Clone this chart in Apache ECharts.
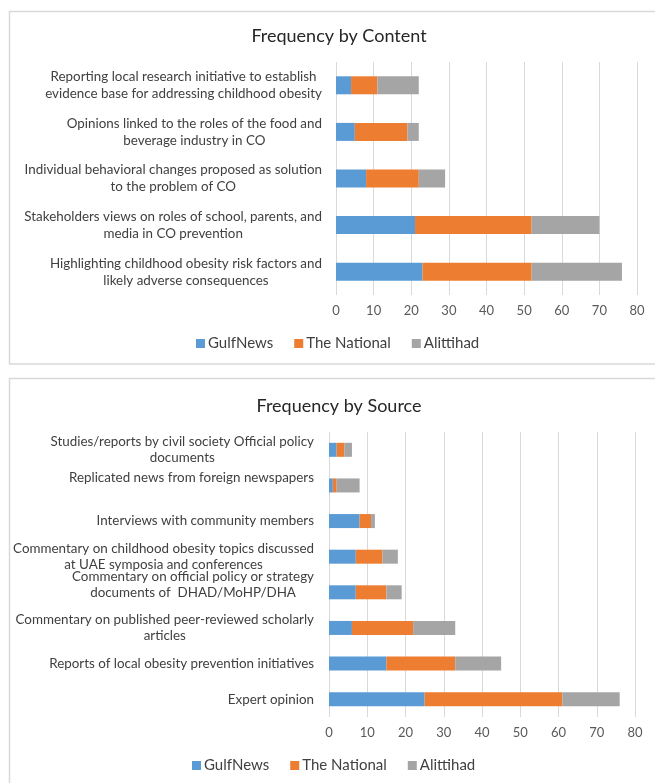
<!DOCTYPE html>
<html>
<head>
<meta charset="utf-8">
<title>Frequency by Content / Source</title>
<script src="https://cdn.jsdelivr.net/npm/echarts@6/dist/echarts.min.js"></script>
<style>
  html, body { margin: 0; padding: 0; background: #fff; overflow: hidden; }
  #chart { width: 655px; height: 783px; }
</style>
</head>
<body>
<div id="chart"></div>
<script>
// 数据 - 按内容
const contentCats = [
  'Reporting local research initiative to establish\nevidence base for addressing childhood obesity',
  'Opinions linked to the roles of the food and\nbeverage industry in CO',
  'Individual behavioral changes proposed as solution\nto the problem of CO',
  'Stakeholders views on roles of school, parents, and\nmedia in CO prevention',
  'Highlighting childhood obesity risk factors and\nlikely adverse consequences'
];
const contentGulf = [4, 5, 8, 21, 23];
const contentNational = [7, 14, 14, 31, 29];
const contentAlittihad = [11, 3, 7, 18, 24];

// 数据 - 按来源
const sourceCats = [
  'Studies/reports by civil society Official policy\ndocuments',
  'Replicated news from foreign newspapers\n ',
  'Interviews with community members',
  'Commentary on childhood obesity topics discussed\nat UAE symposia and conferences',
  'Commentary on official policy or strategy\ndocuments of  DHAD/MoHP/DHA\n ',
  'Commentary on published peer-reviewed scholarly\narticles',
  'Reports of local obesity prevention initiatives',
  'Expert opinion'
];
const sourceGulf = [2, 1, 8, 7, 7, 6, 15, 25];
const sourceNational = [2, 1, 3, 7, 8, 16, 18, 36];
const sourceAlittihad = [2, 6, 1, 4, 4, 11, 12, 15];

const seriesNames = ['GulfNews', 'The National', 'Alittihad'];
const xTicks = { min: 0, max: 80, interval: 10 };

const colors = ['#5B9BD5', '#ED7D31', '#A5A5A5'];
const font = 'Lato, "Open Sans", sans-serif';

// 多行标签居中
function catLabel(value) {
  return value.split('\n').map(l => '{c|' + l + '}').join('\n');
}

function xAxisOf(gridIndex) {
  return {
    type: 'value',
    gridIndex: gridIndex,
    min: xTicks.min,
    max: xTicks.max,
    interval: xTicks.interval,
    axisLine: { show: false },
    axisTick: { show: false },
    axisLabel: { color: '#595959', fontSize: 13, fontFamily: font, margin: 9 },
    splitLine: { show: true, lineStyle: { color: '#d9d9d9', width: 1 } }
  };
}

function yAxisOf(gridIndex, cats, lineHeight, margin) {
  return {
    type: 'category',
    gridIndex: gridIndex,
    data: cats,
    inverse: true,
    axisLine: { show: false },
    axisTick: { show: false },
    axisLabel: {
      margin: margin,
      formatter: catLabel,
      rich: {
        c: { align: 'center', color: '#404040', fontSize: 13.4, fontFamily: font, lineHeight: lineHeight }
      }
    }
  };
}

function barSeries(name, data, idx, stack, barWidth) {
  return {
    name: name,
    type: 'bar',
    stack: stack,
    xAxisIndex: idx,
    yAxisIndex: idx,
    data: data,
    barWidth: barWidth,
    itemStyle: { color: colors[seriesNames.indexOf(name)] }
  };
}

const legendBase = {
  data: seriesNames,
  icon: 'rect',
  itemWidth: 9,
  itemHeight: 9,
  itemGap: 21,
  padding: 0,
  textStyle: { color: '#404040', fontSize: 15, fontFamily: font, padding: [0, 0, 0, -2] }
};

const myChart = echarts.init(document.getElementById('chart'));
myChart.setOption({
  animation: false,
  color: colors,
  graphic: [
    { type: 'rect', shape: { x: 9.5, y: 11.5, width: 700, height: 352.5 }, style: { fill: 'none', stroke: '#d9d9d9', lineWidth: 1.5 }, z: -1 },
    { type: 'rect', shape: { x: 9.5, y: 378.5, width: 700, height: 450 }, style: { fill: 'none', stroke: '#d9d9d9', lineWidth: 1.5 }, z: -1 }
  ],
  title: [
    { text: 'Frequency by Content', left: 334, top: 22, textAlign: 'center',
      textStyle: { color: '#262626', fontSize: 18, fontWeight: 'normal', fontFamily: font } },
    { text: 'Frequency by Source', left: 334, top: 392, textAlign: 'center',
      textStyle: { color: '#262626', fontSize: 18, fontWeight: 'normal', fontFamily: font } }
  ],
  legend: [
    Object.assign({}, legendBase, { left: 196, top: 336 }),
    Object.assign({}, legendBase, { left: 192, top: 758 })
  ],
  grid: [
    { left: 336, right: 18, top: 62, bottom: 488 },
    { left: 329, right: 20, top: 432, bottom: 66 }
  ],
  xAxis: [xAxisOf(0), xAxisOf(1)],
  yAxis: [yAxisOf(0, contentCats, 17, 14), yAxisOf(1, sourceCats, 16, 15)],
  series: [
    barSeries('GulfNews', contentGulf, 0, 'content', 18),
    barSeries('The National', contentNational, 0, 'content', 18),
    barSeries('Alittihad', contentAlittihad, 0, 'content', 18),
    barSeries('GulfNews', sourceGulf, 1, 'source', 14),
    barSeries('The National', sourceNational, 1, 'source', 14),
    barSeries('Alittihad', sourceAlittihad, 1, 'source', 14)
  ]
});
</script>
</body>
</html>
